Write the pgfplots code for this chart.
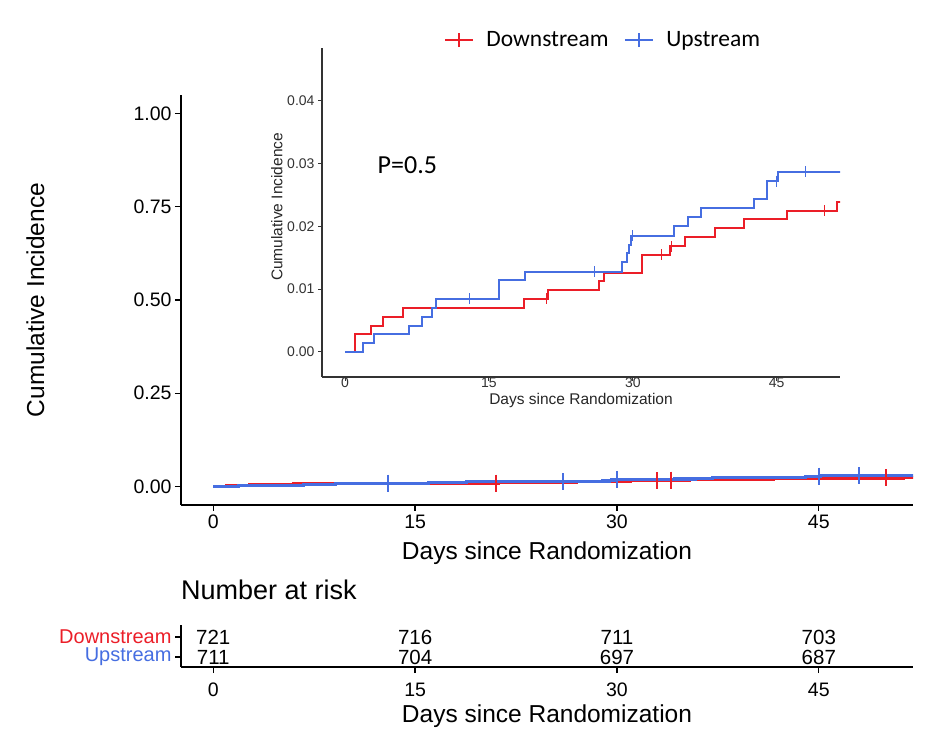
\documentclass[border=0pt]{standalone}
\usepackage{fontspec}
\setmainfont{Liberation Sans}
\newfontfamily\calibri{Carlito}
\usepackage{pgfplots}
\pgfplotsset{compat=1.18}
\definecolor{cred}{RGB}{235,30,40}
\definecolor{cblue}{RGB}{70,110,225}
\newcommand{\fs}[1]{\fontsize{#1}{#1}\selectfont}
\begin{document}
\begin{tikzpicture}
\useasboundingbox (0,0) rectangle (935bp,734bp);
% ---------------- main plot ----------------
\begin{axis}[
  at={(181bp,229bp)}, anchor=south west, scale only axis,
  width=732bp, height=410bp,
  xmin=-2.4, xmax=52, ymin=-0.05, ymax=1.05,
  axis x line*=bottom, axis y line*=left,
  axis line style={line width=1.6bp, black, -},
  tick align=outside, major tick length=6bp,
  tick style={line width=1.3bp, black},
  xtick={0,15,30,45}, xticklabels={0,15,30,45},
  ytick={0,0.25,0.5,0.75,1}, yticklabels={0.00,0.25,0.50,0.75,1.00},
  tick label style={font=\fs{19.5bp}},
  xticklabel style={text height=14bp, text depth=0bp},
  xlabel={Days since Randomization}, ylabel={Cumulative Incidence},
  label style={font=\fs{24.5bp}},
  xlabel style={at={(axis description cs:0.5,0)}, anchor=base, yshift=-55bp},
  ylabel style={at={(axis description cs:-0.199,0.5)}, anchor=center},
  legend style={at={(axis description cs:0.575,1.134)}, anchor=center,
    draw=none, fill=none, legend columns=2, font=\calibri\fs{23.5bp},
    nodes={inner sep=0bp},
    /tikz/every odd column/.append style={column sep=12bp},
    /tikz/every even column/.append style={column sep=15bp}},
]
\addlegendimage{legend image code/.code={\draw[cred,line width=2.6bp](0bp,0bp)--(28bp,0bp);\draw[cred,line width=2.2bp](14bp,-7bp)--(14bp,7bp);}}
\addlegendentry{Downstream}
\addlegendimage{legend image code/.code={\draw[cblue,line width=2.6bp](0bp,0bp)--(28bp,0bp);\draw[cblue,line width=2.2bp](14bp,-7bp)--(14bp,7bp);}}
\addlegendentry{Upstream}
\addplot[const plot, cred, line width=3.2bp, forget plot] coordinates {
(0,0) (1,0.0028) (2.7,0.0042) (4,0.0056) (6,0.0070) (18.7,0.0085) (21.2,0.0098)
(26.5,0.0113) (27,0.0126) (31,0.0155) (33.9,0.0168) (35.4,0.0183) (38.6,0.0197)
(41.6,0.0211) (46.1,0.0225) (51.3,0.0239) (53,0.0239)};
\addplot[only marks, mark=|, mark size=8.5bp, cred, mark options={line width=2bp}, forget plot] coordinates {
(21,0.0085) (33,0.0155) (34,0.0168) (50,0.0225)};
\addplot[const plot, cblue, line width=3.2bp, forget plot] coordinates {
(0,0) (1.9,0.0014) (3,0.0028) (6.7,0.0042) (8,0.0056) (9.1,0.0070) (9.5,0.0085)
(16,0.0114) (18.8,0.0128) (28.9,0.0143) (29.4,0.0157) (29.6,0.0171) (29.8,0.0185)
(34.3,0.0200) (35.8,0.0215) (37.1,0.0229) (42.6,0.0244) (44,0.0272) (45.1,0.0287) (53,0.0287)};
\addplot[only marks, mark=|, mark size=8.5bp, cblue, mark options={line width=2bp}, forget plot] coordinates {
(13,0.0085) (26,0.0128) (30,0.0185) (45,0.0272) (48,0.0287)};
\end{axis}
% ---------------- inset ----------------
\begin{axis}[
  at={(322bp,357bp)}, anchor=south west, scale only axis,
  width=518bp, height=329bp,
  xmin=-2.4, xmax=51.6, ymin=-0.004, ymax=0.0484,
  scaled y ticks=false, scaled x ticks=false,
  axis x line*=bottom, axis y line*=left,
  axis line style={line width=1.3bp, black!80, -},
  tick align=outside, major tick length=4bp,
  tick style={line width=1bp, black!80},
  xtick={0,15,30,45}, xticklabels={0,15,30,45},
  ytick={0,0.01,0.02,0.03,0.04}, yticklabels={0.00,0.01,0.02,0.03,0.04},
  tick label style={font=\fs{14bp}, black!80},
  xticklabel style={yshift=5bp, text height=10bp, text depth=0bp, inner ysep=1bp},
  xlabel={Days since Randomization}, ylabel={Cumulative Incidence},
  label style={font=\fs{15.5bp}, black!85},
  xlabel style={at={(axis description cs:0.5,0)}, anchor=base, yshift=-27.5bp, inner ysep=1bp},
  ylabel style={at={(axis description cs:-0.087,0.517)}, anchor=center},
]
\addplot[const plot, cred, line width=2bp] coordinates {
(0,0) (1,0.0028) (2.7,0.0042) (4,0.0056) (6,0.0070) (18.7,0.0085) (21.2,0.0098)
(26.5,0.0113) (27,0.0126) (31,0.0155) (33.9,0.0168) (35.4,0.0183) (38.6,0.0197)
(41.6,0.0211) (46.1,0.0225) (51.3,0.0239) (53,0.0239)};
\addplot[only marks, mark=|, mark size=5.5bp, cred, mark options={line width=1.3bp}] coordinates {
(21,0.0085) (33,0.0155) (34,0.0168) (50,0.0225)};
\addplot[const plot, cblue, line width=2bp] coordinates {
(0,0) (1.9,0.0014) (3,0.0028) (6.7,0.0042) (8,0.0056) (9.1,0.0070) (9.5,0.0085)
(16,0.0114) (18.8,0.0128) (28.9,0.0143) (29.4,0.0157) (29.6,0.0171) (29.8,0.0185)
(34.3,0.0200) (35.8,0.0215) (37.1,0.0229) (42.6,0.0244) (44,0.0272) (45.1,0.0287) (53,0.0287)};
\addplot[only marks, mark=|, mark size=5.5bp, cblue, mark options={line width=1.3bp}] coordinates {
(13,0.0085) (26,0.0128) (30,0.0185) (45,0.0272) (48,0.0287)};
\node[font=\calibri\fs{26bp}, inner sep=0bp] at (axis cs:6.5,0.0298) {P=0.5};
\end{axis}
% ---------------- risk table ----------------
\begin{axis}[
  at={(181bp,67bp)}, anchor=south west, scale only axis,
  width=732bp, height=42bp,
  xmin=-2.4, xmax=52, ymin=0, ymax=4.2, clip=false,
  axis x line*=bottom, axis y line*=left,
  axis line style={line width=1.6bp, black, -},
  tick align=outside, major tick length=6bp,
  tick style={line width=1.3bp, black},
  xtick={0,15,30,45}, xticklabels={0,15,30,45},
  ytick={1,3}, yticklabels={\textcolor{cblue}{Upstream},\textcolor{cred}{Downstream}},
  xticklabel style={font=\fs{19.5bp}, yshift=-6bp, text height=14bp, text depth=0bp},
  yticklabel style={font=\fs{20bp}, inner ysep=0bp},
  xlabel={Days since Randomization},
  label style={font=\fs{24.5bp}},
  xlabel style={at={(axis description cs:0.5,0)}, anchor=base, yshift=-55bp},
  title={Number at risk},
  title style={at={(axis description cs:0,1)}, anchor=base west, yshift=20bp, inner sep=0bp, font=\fs{27bp}},
]
\addplot[draw=none, nodes near coords, point meta=explicit symbolic,
  every node near coord/.style={anchor=center, font=\fs{20.5bp}, black, inner sep=0bp}]
  coordinates {(0,3)[721] (15,3)[716] (30,3)[711] (45,3)[703]
               (0,1)[711] (15,1)[704] (30,1)[697] (45,1)[687]};
\end{axis}
\end{tikzpicture}
\end{document}
